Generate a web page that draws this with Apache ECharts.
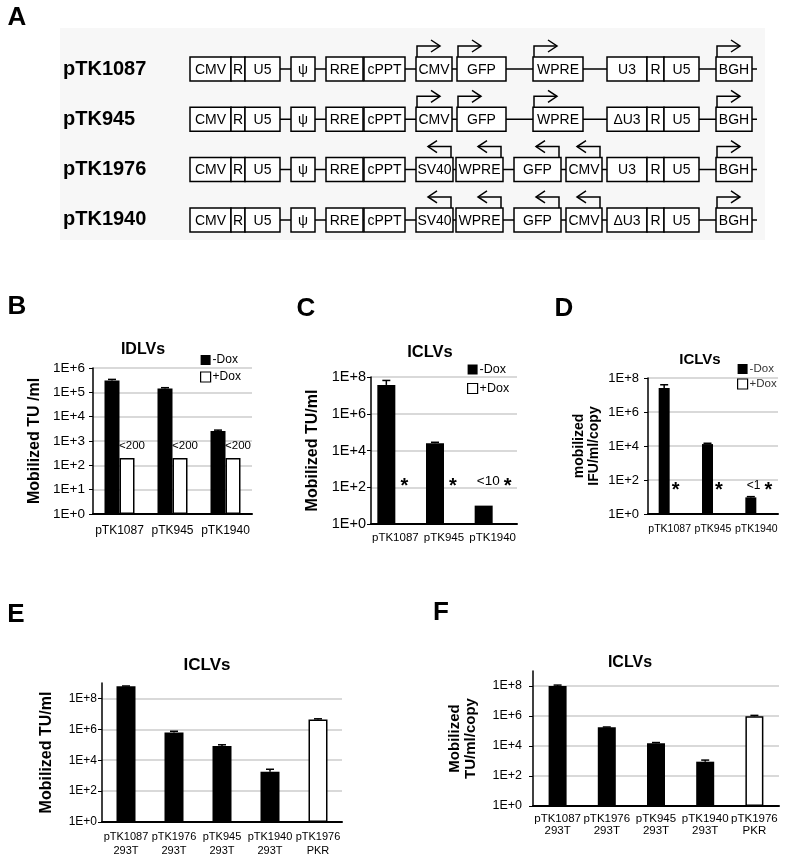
<!DOCTYPE html>
<html>
<head>
<meta charset="utf-8">
<script src="https://cdn.jsdelivr.net/npm/echarts@6/dist/echarts.min.js"></script>
<style>
  html, body { margin: 0; background: #fff; }
  #chart { width: 800px; height: 861px; }
</style>
</head>
<body>
<div id="chart"></div>
<script>
// ---- data ----
// B: IDLVs
const catB = ['pTK1087', 'pTK945', 'pTK1940']
const bMinusDox = [3.1e5, 1.45e5, 2.6e3]
const bMinusDoxErr = [3.4e5, 1.55e5, 2.8e3]
const bPlusDox = [200, 200, 200]

// C: ICLVs TU/ml
const catC = ['pTK1087', 'pTK945', 'pTK1940']
const cMinusDox = [3.7e7, 2.5e4, 10]
const cMinusDoxErr = [6.5e7, 2.8e4, null]
const cPlusDox = [null, null, null]
const cNotePrefix = ['', '', '<10']
const cNoteY = [200, 200, 200]

// D: ICLVs IFU/ml/copy
const catD = ['pTK1087', 'pTK945', 'pTK1940']
const dMinusDox = [2.6e7, 1.3e4, 9.5]
const dMinusDoxErr = [4.0e7, 1.45e4, 10.5]
const dPlusDox = [null, null, null]
const dNotePrefix = ['', '', '<1']
const dNoteY = [45, 45, 45]

// E / F: ICLVs by producer cell line
const catEF = ['pTK1087\n293T', 'pTK1976\n293T', 'pTK945\n293T', 'pTK1940\n293T', 'pTK1976\nPKR']
const efCell = ['293T', '293T', '293T', '293T', 'PKR']
const eValues = [6.2e8, 6.2e5, 8.3e4, 1.8e3, 4.3e6]
const eErr = [6.4e8, 7.5e5, 1.0e5, 2.6e3, 4.8e6]
const fValues = [1.0e8, 1.8e5, 1.5e4, 9.0e2, 9.5e5]
const fErr = [1.15e8, 1.85e5, 1.7e4, 1.15e3, 1.1e6]

// A: vector maps  [label, x0, x1, promoter arrow (1 fwd, -1 rev)]
const ltr5 = [['CMV', 190, 231, 0], ['R', 231, 245, 0], ['U5', 245, 280, 0], ['ψ', 291, 315, 0], ['RRE', 326, 363, 0], ['cPPT', 364, 405, 0]]
const fwdCassette = [['CMV', 416, 452, 1], ['GFP', 457, 506, 1], ['WPRE', 533, 583, 1]]
const revCassette = [['SV40', 416, 453, -1], ['WPRE', 456, 503, -1], ['GFP', 514, 561, -1], ['CMV', 566, 602, -1]]
const ltr3 = (u3) => [[u3, 607, 647, 0], ['R', 647, 664, 0], ['U5', 664, 699, 0], ['BGH', 716, 752, 1]]
const constructNames = ['pTK1087', 'pTK945', 'pTK1976', 'pTK1940']
const constructParts = [
  [...ltr5, ...fwdCassette, ...ltr3('U3')],
  [...ltr5, ...fwdCassette, ...ltr3('ΔU3')],
  [...ltr5, ...revCassette, ...ltr3('U3')],
  [...ltr5, ...revCassette, ...ltr3('ΔU3')]
]

const FONT = "'Liberation Sans', Arial, sans-serif"
const black = { color: '#000' }
const white = { color: '#fff', borderColor: '#000', borderWidth: 1.5 }

// ---- panel A + panel titles (graphic) ----
const graphics = [
  { type: 'rect', shape: { x: 60, y: 28, width: 705, height: 212 }, style: { fill: '#f7f7f7' } }
]
constructNames.forEach((name, r) => {
  const top = 57 + r * 50.3
  const mid = top + 12
  graphics.push({ type: 'text', x: 63, y: mid, style: { text: name, font: 'bold 20px ' + FONT, fill: '#000', verticalAlign: 'middle' } })
  graphics.push({ type: 'line', shape: { x1: 190, y1: mid, x2: 757, y2: mid }, style: { stroke: '#000', lineWidth: 1.5 } })
  constructParts[r].forEach(([lab, x0, x1, dir]) => {
    graphics.push({ type: 'rect', shape: { x: x0, y: top, width: x1 - x0, height: 24 }, style: { fill: '#fff', stroke: '#000', lineWidth: 1.5 } })
    graphics.push({ type: 'text', x: (x0 + x1) / 2, y: mid + 1, style: { text: lab, font: '14px ' + FONT, fill: '#000', align: 'center', verticalAlign: 'middle' } })
    if (dir) {
      const xa = dir > 0 ? x0 + 1 : x1 - 2
      const ya = top - 11
      const tip = xa + dir * 23
      graphics.push({ type: 'polyline', shape: { points: [[xa, top], [xa, ya], [tip, ya]] }, style: { stroke: '#000', lineWidth: 1.5, fill: null } })
      graphics.push({ type: 'polyline', shape: { points: [[tip - dir * 9, ya - 6], [tip, ya], [tip - dir * 9, ya + 6]] }, style: { stroke: '#000', lineWidth: 1.5, fill: null } })
    }
  })
})

const letters = [['A', 17, 18], ['B', 17, 307], ['C', 306, 309], ['D', 564, 309], ['E', 16, 615], ['F', 441, 613]]
letters.forEach(([t, x, y]) => {
  graphics.push({ type: 'text', x, y, style: { text: t, font: 'bold 26px ' + FONT, fill: '#000', align: 'center', verticalAlign: 'middle' } })
})
const chartTitles = [['IDLVs', 143, 350, 16], ['ICLVs', 430, 352, 16.5], ['ICLVs', 700, 360, 15], ['ICLVs', 207, 665, 17], ['ICLVs', 630, 663, 16]]
chartTitles.forEach(([t, x, y, s]) => {
  graphics.push({ type: 'text', x, y, style: { text: t, font: `bold ${s}px ` + FONT, fill: '#000', align: 'center', verticalAlign: 'middle' } })
})

// ---- helpers ----
const catAxis = (gridIndex, data, fontSize, margin, lineHeight) => ({
  type: 'category', gridIndex, data,
  axisTick: { show: false },
  axisLine: { lineStyle: { color: '#000', width: 2 } },
  axisLabel: { interval: 0, color: '#000', fontSize, fontFamily: FONT, margin, lineHeight, hideOverlap: false }
})

const logAxis = (gridIndex, max, interval, o) => ({
  type: 'log', logBase: 10, gridIndex, min: 1, max, interval,
  axisLine: { show: true, lineStyle: { color: '#000', width: 1.5 } },
  axisTick: { show: true, length: 4, lineStyle: { color: '#000' } },
  splitLine: { show: true, showMaxLine: o.showMax, lineStyle: { color: '#d9d9d9', width: 2 } },
  axisLabel: {
    color: '#000', fontSize: o.size, fontFamily: FONT, margin: o.margin, showMaxLabel: o.showMax,
    formatter: (v) => '1E+' + Math.round(Math.log10(v))
  },
  name: o.name, nameLocation: 'middle', nameRotate: 90, nameGap: o.gap, nameMoveOverlap: false,
  nameTextStyle: { fontSize: o.nameSize, fontWeight: 'bold', fontFamily: FONT, color: '#000', lineHeight: o.nameSize + 1 }
})

// error bar caps drawn from the axes' own coordinates
const errorBars = (idx, values, highs, offset) => ({
  type: 'custom', xAxisIndex: idx, yAxisIndex: idx, z: 5, silent: true,
  data: values.map((v, i) => [i, v, highs[i]]).filter((d) => d[2] != null),
  renderItem: (params, api) => {
    const lo = api.coord([api.value(0), api.value(1)])
    const hi = api.coord([api.value(0), api.value(2)])
    const x = lo[0] + offset
    const st = { stroke: '#000', lineWidth: 1.5 }
    return {
      type: 'group',
      children: [
        { type: 'line', shape: { x1: x, y1: lo[1], x2: x, y2: hi[1] }, style: st },
        { type: 'line', shape: { x1: x - 4, y1: hi[1], x2: x + 4, y2: hi[1] }, style: st }
      ]
    }
  }
})

// "*" / "<n *" notes above the empty +Dox slots
const notes = (idx, prefixes, ys, offset, prefixSize) => ({
  type: 'custom', xAxisIndex: idx, yAxisIndex: idx, z: 5, silent: true,
  data: ys.map((y, i) => [i, y]),
  renderItem: (params, api) => {
    const p = api.coord([api.value(0), api.value(1)])
    const x = p[0] + offset
    const pre = prefixes[params.dataIndex]
    const children = [{
      type: 'text', x: pre ? x + 6 : x, y: p[1] + 5,
      style: { text: '*', font: 'bold 20px ' + FONT, fill: '#000', align: 'center', verticalAlign: 'middle' }
    }]
    if (pre) {
      children.push({
        type: 'text', x: x - 2, y: p[1],
        style: { text: pre, font: `${prefixSize}px ` + FONT, fill: '#000', align: 'right', verticalAlign: 'middle' }
      })
    }
    return { type: 'group', children }
  }
})

const legendData = [
  { name: '-Dox', itemStyle: { color: '#000' } },
  { name: '+Dox', itemStyle: { color: '#fff', borderColor: '#000', borderWidth: 1.2 } }
]
const legendAt = (left, top, gap, size, color) => ({
  data: legendData, orient: 'vertical', left, top, itemWidth: 10, itemHeight: 10, itemGap: gap,
  icon: 'rect', padding: 0, selectedMode: false,
  textStyle: { fontSize: size, fontFamily: FONT, color, padding: [0, 0, 0, -3] }
})

const option = {
  animation: false,
  backgroundColor: '#fff',
  graphic: { elements: graphics },
  grid: [
    { left: 93, top: 368, width: 159, height: 146, outerBoundsMode: 'none' },
    { left: 371, top: 377, width: 146, height: 147, outerBoundsMode: 'none' },
    { left: 648, top: 378, width: 130, height: 136, outerBoundsMode: 'none' },
    { left: 102, top: 683, width: 240, height: 139, outerBoundsMode: 'none' },
    { left: 533, top: 671, width: 246, height: 135, outerBoundsMode: 'none' }
  ],
  legend: [
    legendAt(200, 354, 5, 12, '#000'),
    legendAt(467, 363, 6, 12.5, '#000'),
    legendAt(737, 363, 3, 11.5, '#333')
  ],
  xAxis: [
    catAxis(0, catB, 12, 11),
    catAxis(1, catC, 11.5, 8),
    catAxis(2, catD, 10.5, 10),
    catAxis(3, catEF, 11, 8, 14),
    catAxis(4, catEF, 11.5, 7, 12)
  ],
  yAxis: [
    logAxis(0, 1e6, 1, { size: 13.5, margin: 8, name: 'Mobilized TU /ml', gap: 50, nameSize: 16, showMax: true }),
    logAxis(1, 1e8, 2, { size: 14.5, margin: 5, name: 'Mobilized TU/ml', gap: 50, nameSize: 16, showMax: true }),
    logAxis(2, 1e8, 2, { size: 13, margin: 9, name: 'mobilized\nIFU/ml/copy', gap: 46, nameSize: 14, showMax: true }),
    logAxis(3, 1e9, 2, { size: 12, margin: 5, name: 'Mobilized TU/ml', gap: 47, nameSize: 16, showMax: false }),
    logAxis(4, 1e9, 2, { size: 12.5, margin: 11, name: 'Mobilized\nTU/ml/copy', gap: 54, nameSize: 15, showMax: false })
  ],
  series: [
    // B
    { name: '-Dox', type: 'bar', xAxisIndex: 0, yAxisIndex: 0, barWidth: 15, barGap: '0%', itemStyle: black, data: bMinusDox },
    {
      name: '+Dox', type: 'bar', xAxisIndex: 0, yAxisIndex: 0, barWidth: 15, barGap: '0%', itemStyle: white, data: bPlusDox,
      label: { show: true, position: 'top', distance: 6, offset: [5, 0], formatter: (p) => '<' + p.value, fontSize: 11.5, fontFamily: FONT, color: '#000' }
    },
    errorBars(0, bMinusDox, bMinusDoxErr, -7.5),
    // C
    { name: '-Dox', type: 'bar', xAxisIndex: 1, yAxisIndex: 1, barWidth: 18, barGap: '0%', itemStyle: black, data: cMinusDox },
    { name: '+Dox', type: 'bar', xAxisIndex: 1, yAxisIndex: 1, barWidth: 18, barGap: '0%', itemStyle: white, data: cPlusDox },
    errorBars(1, cMinusDox, cMinusDoxErr, -9),
    notes(1, cNotePrefix, cNoteY, 9, 13.5),
    // D
    { name: '-Dox', type: 'bar', xAxisIndex: 2, yAxisIndex: 2, barWidth: 11, barGap: '0%', itemStyle: black, data: dMinusDox },
    { name: '+Dox', type: 'bar', xAxisIndex: 2, yAxisIndex: 2, barWidth: 11, barGap: '0%', itemStyle: white, data: dPlusDox },
    errorBars(2, dMinusDox, dMinusDoxErr, -5.5),
    notes(2, dNotePrefix, dNoteY, 6, 12),
    // E
    {
      name: 'E', type: 'bar', xAxisIndex: 3, yAxisIndex: 3, barWidth: 19,
      data: eValues.map((v, i) => ({ value: v, itemStyle: efCell[i] === 'PKR' ? white : black }))
    },
    errorBars(3, eValues, eErr, 0),
    // F
    {
      name: 'F', type: 'bar', xAxisIndex: 4, yAxisIndex: 4, barWidth: 18,
      data: fValues.map((v, i) => ({ value: v, itemStyle: efCell[i] === 'PKR' ? white : black }))
    },
    errorBars(4, fValues, fErr, 0)
  ]
}

const myChart = echarts.init(document.getElementById('chart'))
myChart.setOption(option)
</script>
</body>
</html>
